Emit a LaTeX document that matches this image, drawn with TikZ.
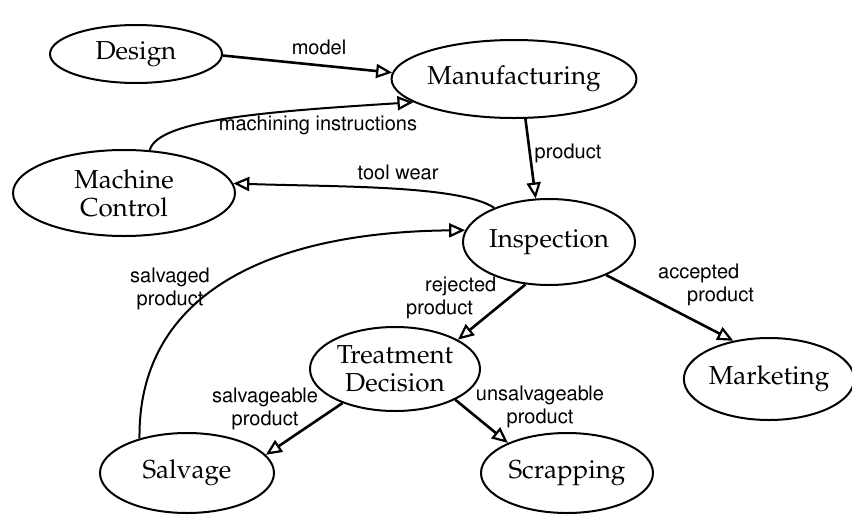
\documentclass[tikz,border=0pt]{standalone}
\usepackage[T1]{fontenc}
\usetikzlibrary{shapes.geometric,arrows.meta}
% Palatino for the stages, Helvetica for the flow labels
\newcommand{\stagefont}{\fontfamily{ppl}\fontsize{26}{28}\selectfont}
\newcommand{\flowfont}{\fontfamily{phv}\fontsize{20}{23}\selectfont}
\tikzset{
  stage/.style={ellipse, draw, line width=2pt, inner sep=0pt, align=center, font=\stagefont},
  tiphead/.style={-{Triangle[open,length=16pt,width=14pt,line width=2.2pt]}},
  flow/.style={tiphead, line width=2.6pt},
  loopback/.style={tiphead, line width=2pt},
  flowlabel/.style={inner sep=0pt, align=center, font=\flowfont}
}
\begin{document}
\begin{tikzpicture}[x=1pt, y=-1pt]
  \fill[white] (0,0) rectangle (852,515);
  \useasboundingbox (0,0) rectangle (852,515);

  % stages
  \node[stage, minimum width=172pt, minimum height=58pt] (design) at (136,54) {Design};
  \node[stage, minimum width=224pt, minimum height=78pt] (manu) at (514,79) {Manufacturing};
  \node[stage, minimum width=222pt, minimum height=86pt] (mc) at (124,193) {Machine\\Control};
  \node[stage, minimum width=172pt, minimum height=86pt] (insp) at (549,242) {Inspection};
  \node[stage, minimum width=170pt, minimum height=84pt] (treat) at (395,369) {Treatment\\Decision};
  \node[stage, minimum width=162pt, minimum height=82pt] (mkt) at (769,379) {Marketing};
  \node[stage, minimum width=174pt, minimum height=80pt] (salv) at (187,473) {Salvage};
  \node[stage, minimum width=172pt, minimum height=80pt] (scrap) at (567,473) {Scrapping};

  % straight flows
  \draw[flow] (design.-1) -- (manu.177);
  \draw[flow] (manu.-74) -- (insp.107);
  \draw[flow] (insp.-119) -- (treat.25);
  \draw[flow] (insp.-30) -- (mkt.133);
  \draw[flow] (treat.-147) -- (salv.13);
  \draw[flow] (treat.-27) -- (scrap.153);

  % feedback loops
  \draw[loopback] (mc.59) .. controls +(8,-31) and +(-142,9) .. (manu.193);
  \draw[loopback] (insp.148) .. controls +(-35,-23) and +(100,3.5) .. (mc.5);
  \draw[loopback] (salv.144) .. controls +(-1.6,-139) and +(-206,2) .. (insp.172);

  % flow labels
  \node[flowlabel] (lmodel) at (319,47) {model};
  \node[flowlabel] (lmach) at (318,126) {machining instructions};
  \node[flowlabel] (ltool) at (398,172) {tool wear};
  \node[flowlabel] (lprod) at (568,153) {product};
  \node[flowlabel] (lsalvaged) at (170,289) {salvaged\\product};
  \node[flowlabel, align=left, anchor=west] (lrej) at (406,297.5) {\hspace*{19pt}rejected\\product};
  \node[flowlabel, align=left, anchor=west] (lacc) at (658,285) {accepted\\\hspace*{29pt}product};
  \node[flowlabel] (lsalvable) at (265,408.5) {salvageable\\product};
  \node[flowlabel] (lunsalv) at (540,407) {unsalvageable\\product};
\end{tikzpicture}
\end{document}
